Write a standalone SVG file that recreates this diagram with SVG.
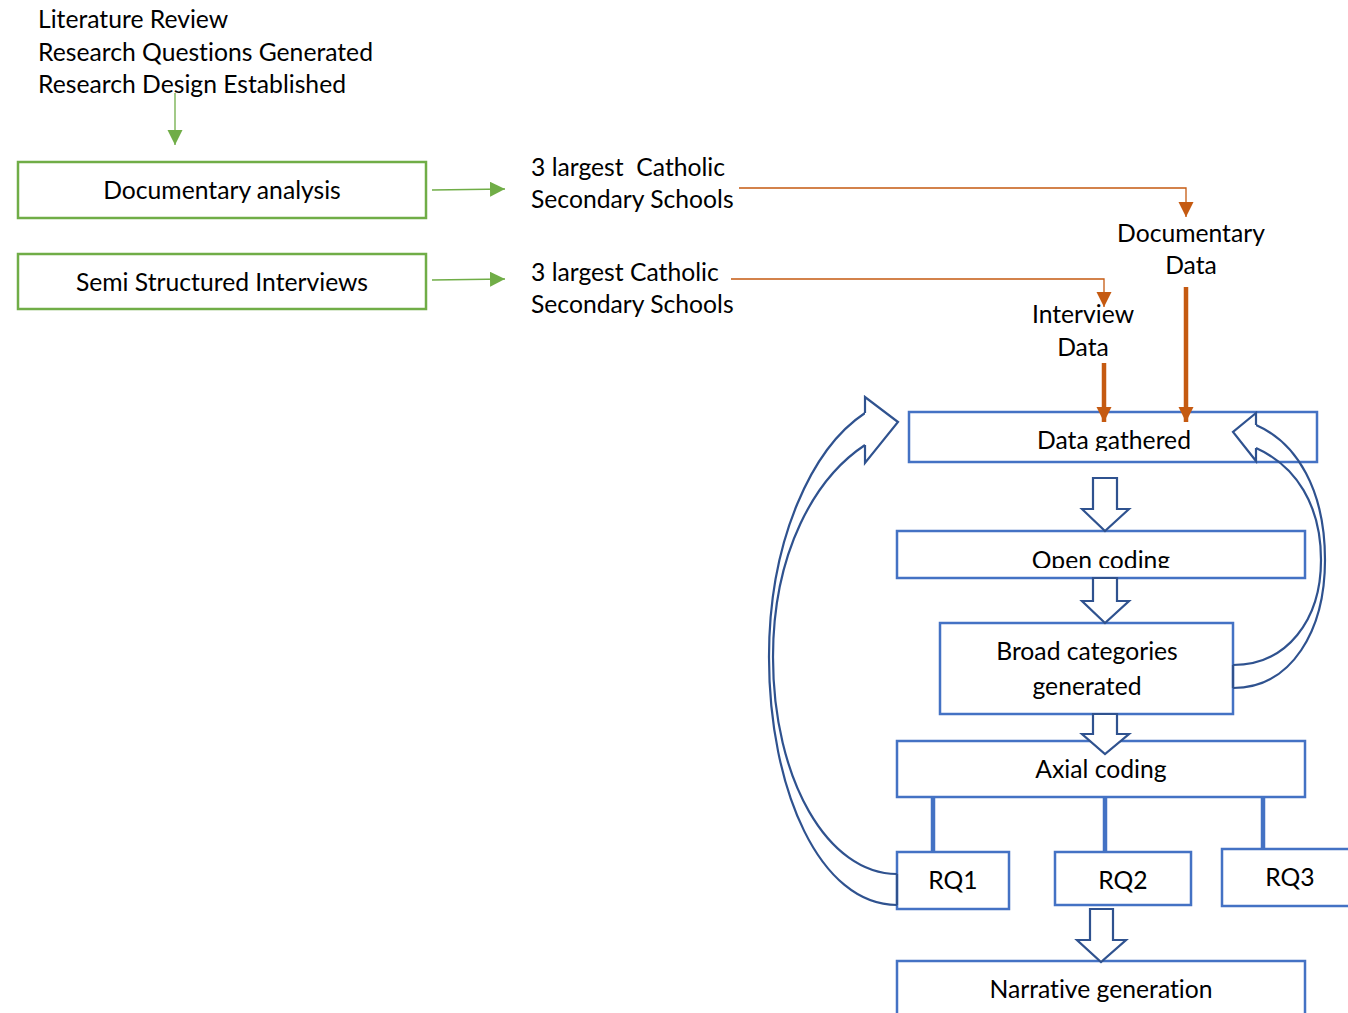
<svg xmlns="http://www.w3.org/2000/svg" width="1348" height="1013" viewBox="0 0 1348 1013">
  <style>
    text { font-family: Lato, "Liberation Sans", sans-serif; font-size: 24.7px; fill: #000; white-space: pre; font-variant-ligatures: none; font-feature-settings: "liga" 0; }
    .mid { text-anchor: middle; }
    .gbox { fill: #fff; stroke: #70AD47; stroke-width: 2.5; }
    .bbox { fill: #fff; stroke: #4472C4; stroke-width: 2.5; }
    .gline { fill: none; stroke: #70AD47; stroke-width: 1.3; }
    .oline { fill: none; stroke: #C55A11; stroke-width: 1.3; }
    .othick { fill: none; stroke: #C55A11; stroke-width: 4.5; }
    .bline { fill: none; stroke: #4472C4; stroke-width: 4.5; }
    .block { fill: #fff; stroke: #2F528F; stroke-width: 2.2; stroke-linejoin: miter; }
    .curve { fill: none; stroke: #2F528F; stroke-width: 2.2; }
  </style>
  <defs>
    <marker id="gHead" markerWidth="16" markerHeight="16" refX="15" refY="7.5" orient="auto" markerUnits="userSpaceOnUse">
      <path d="M0,0 L15,7.5 L0,15 Z" fill="#70AD47"/>
    </marker>
    <marker id="oHead" markerWidth="16" markerHeight="16" refX="15" refY="7.5" orient="auto" markerUnits="userSpaceOnUse">
      <path d="M0,0 L15,7.5 L0,15 Z" fill="#C55A11"/>
    </marker>
    <clipPath id="clipGathered"><rect x="909" y="412" width="408" height="39"/></clipPath>
    <clipPath id="clipOpen"><rect x="897" y="531" width="408" height="37"/></clipPath>
  </defs>

  <!-- header lines -->
  <g id="header">
    <text x="38" y="28">Literature Review</text>
    <text x="38" y="61">Research Questions Generated</text>
    <text x="38" y="93">Research Design Established</text>
  </g>

  <!-- data collection methods -->
  <g id="node-documentary-analysis">
    <rect class="gbox" x="18" y="162" width="408" height="56"/>
    <text class="mid" x="222" y="199">Documentary analysis</text>
  </g>
  <g id="node-interviews">
    <rect class="gbox" x="18" y="254" width="408" height="55"/>
    <text class="mid" x="222" y="291">Semi Structured Interviews</text>
  </g>
  <g id="node-schools-1">
    <text x="531" y="176" xml:space="preserve">3 largest  Catholic</text>
    <text x="531" y="208">Secondary Schools</text>
  </g>
  <g id="node-schools-2">
    <text x="531" y="281">3 largest Catholic</text>
    <text x="531" y="313">Secondary Schools</text>
  </g>
  <g id="node-documentary-data">
    <text class="mid" x="1191" y="242">Documentary</text>
    <text class="mid" x="1191" y="274">Data</text>
  </g>
  <g id="node-interview-data">
    <text class="mid" x="1083" y="323">Interview</text>
    <text class="mid" x="1083" y="356">Data</text>
  </g>

  <!-- analysis stages -->
  <g id="node-data-gathered">
    <rect class="bbox" x="909" y="412" width="408" height="50"/>
    <text class="mid" x="1114" y="449" clip-path="url(#clipGathered)">Data gathered</text>
  </g>
  <g id="node-open-coding">
    <rect class="bbox" x="897" y="531" width="408" height="47"/>
    <text class="mid" x="1101" y="569" clip-path="url(#clipOpen)">Open coding</text>
  </g>
  <g id="node-broad-categories">
    <rect class="bbox" x="940" y="623" width="293" height="91"/>
    <text class="mid" x="1087" y="660">Broad categories</text>
    <text class="mid" x="1087" y="695">generated</text>
  </g>
  <g id="node-axial-coding">
    <rect class="bbox" x="897" y="741" width="408" height="56"/>
    <text class="mid" x="1101" y="778">Axial coding</text>
  </g>
  <g id="node-rq1">
    <rect class="bbox" x="897" y="852" width="112" height="57"/>
    <text class="mid" x="953" y="889">RQ1</text>
  </g>
  <g id="node-rq2">
    <rect class="bbox" x="1055" y="852" width="136" height="53"/>
    <text class="mid" x="1123" y="889">RQ2</text>
  </g>
  <g id="node-rq3">
    <rect class="bbox" x="1222" y="849" width="140" height="57"/>
    <text class="mid" x="1290" y="886">RQ3</text>
  </g>
  <g id="node-narrative">
    <rect class="bbox" x="897" y="961" width="408" height="70"/>
    <text class="mid" x="1101" y="998">Narrative generation</text>
  </g>

  <!-- connectors -->
  <g id="connectors">
    <line class="gline" x1="175" y1="93" x2="175" y2="145" marker-end="url(#gHead)"/>
    <line class="gline" x1="432" y1="190" x2="505" y2="189" marker-end="url(#gHead)"/>
    <line class="gline" x1="432" y1="280" x2="505" y2="279" marker-end="url(#gHead)"/>

    <polyline class="oline" points="739,188 1186,188 1186,217" marker-end="url(#oHead)"/>
    <polyline class="oline" points="731,279 1104,279 1104,307" marker-end="url(#oHead)"/>

    <line class="othick" x1="1104" y1="363" x2="1104" y2="422" marker-end="url(#oHead)"/>
    <line class="othick" x1="1186" y1="287" x2="1186" y2="422" marker-end="url(#oHead)"/>

    <!-- block arrows between stages -->
    <path class="block" d="M1093,478 H1117 V509 H1129 L1105,531 L1082,509 H1093 Z"/>
    <path class="block" d="M1093,578 H1117 V601 H1129 L1105,623 L1082,601 H1093 Z"/>
    <path class="block" d="M1093,714 H1117 V734 H1129 L1105,754 L1082,734 H1093 Z"/>
    <path class="block" d="M1090,909 H1113 V940 H1126 L1101,962 L1077,940 H1090 Z"/>

    <!-- axial coding to research questions -->
    <line class="bline" x1="933" y1="797" x2="933" y2="852"/>
    <line class="bline" x1="1105" y1="797" x2="1105" y2="852"/>
    <line class="bline" x1="1263" y1="797" x2="1263" y2="849"/>

    <!-- feedback loop: RQ1 back to data gathered -->
    <path class="curve" d="M897,905 C820,905 769,790 769,657 C769,540 812,448 865,413"/>
    <path class="curve" d="M897,874 C828,874 773,780 773,657 C773,552 815,478 865,445"/>
    <path class="block" d="M865,413 L865,397 L898,422 L865,463 L865,445" fill="none"/>
    <line x1="897" y1="874" x2="897" y2="905" stroke="#2F528F" stroke-width="2.2"/>

    <!-- feedback loop: broad categories back to data gathered -->
    <path class="curve" d="M1233,688 C1292,688 1325,630 1325,560 C1325,490 1297,443 1256,425"/>
    <path class="curve" d="M1233,665 C1287,665 1321,620 1321,560 C1321,505 1296,466 1256,448"/>
    <path class="block" d="M1256,425 L1256,413 L1233,432 L1256,461 L1256,448" fill="none"/>
    <line x1="1233" y1="665" x2="1233" y2="688" stroke="#2F528F" stroke-width="2.2"/>
  </g>
</svg>
